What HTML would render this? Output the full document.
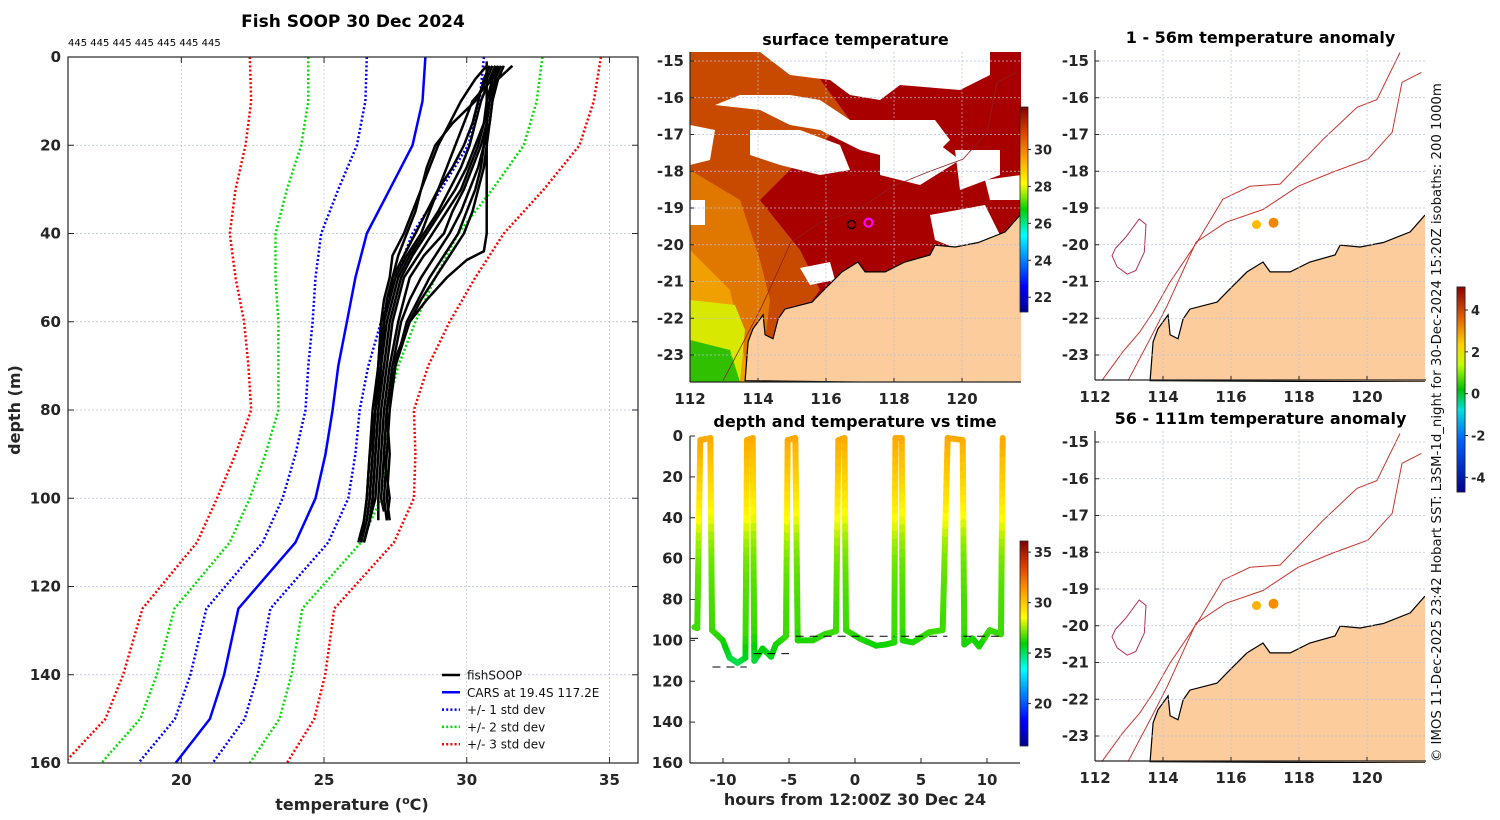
<!DOCTYPE html>
<html><head><meta charset="utf-8"><style>
html,body{margin:0;padding:0;background:#fff;}
svg{display:block;font-family:"DejaVu Sans","Liberation Sans",sans-serif;}
.tk{font-size:15px;font-weight:bold;fill:#262626;}
.ttl{font-size:16px;font-weight:bold;fill:#000;}
.grid{stroke:#b8c0dc;stroke-width:0.7;stroke-dasharray:2,2;}
</style></head><body>
<svg id="fig" width="1500" height="820" viewBox="0 0 1500 820">
<defs>
<linearGradient id="jet" x1="0" y1="1" x2="0" y2="0">
<stop offset="0" stop-color="#00008f"/><stop offset="0.125" stop-color="#0000ff"/><stop offset="0.375" stop-color="#00ffff"/><stop offset="0.5" stop-color="#00d000"/><stop offset="0.625" stop-color="#ffff00"/><stop offset="0.75" stop-color="#ffa000"/><stop offset="0.875" stop-color="#e04000"/><stop offset="1" stop-color="#800000"/>
</linearGradient>
<linearGradient id="anom" x1="0" y1="1" x2="0" y2="0">
<stop offset="0" stop-color="#00008f"/><stop offset="0.25" stop-color="#0060ff"/><stop offset="0.4" stop-color="#00e0e0"/><stop offset="0.5" stop-color="#00c000"/><stop offset="0.62" stop-color="#c0ff00"/><stop offset="0.72" stop-color="#ffd000"/><stop offset="0.85" stop-color="#e06000"/><stop offset="1" stop-color="#900000"/>
</linearGradient>
<clipPath id="clipL"><rect x="68" y="57" width="570" height="706"/></clipPath>
<clipPath id="clipM"><rect x="690" y="52" width="331" height="330"/></clipPath>
<clipPath id="clipT"><rect x="690" y="430" width="330" height="333"/></clipPath>
<clipPath id="clipR1"><rect x="1095" y="50" width="330" height="332"/></clipPath>
<clipPath id="clipR2"><rect x="1095" y="431" width="330" height="332"/></clipPath>
</defs>
<g id="left"></g>
<g id="mapT"></g>
<g id="ts"></g>
<g id="mapR1"></g>
<g id="mapR2"></g>
<text x="1441" y="762" transform="rotate(-90 1441 762)" style="font-size:13.3px;fill:#111">© IMOS 11-Dec-2025 23:42 Hobart SST: L3SM-1d_night for 30-Dec-2024 15:20Z isobaths: 200  1000m</text>
</svg>
<script>
// ---------- Profile panel data ----------
const depthLevels = [0,10,20,30,40,50,60,70,80,90,100,110,125,140,150,160];
const carsMean =    [28.55,28.45,28.1,27.3,26.5,26.1,25.8,25.5,25.3,25.05,24.7,24.0,22.0,21.5,21.0,19.8];
const carsStd =     [2.05,2.0,1.95,1.8,1.6,1.4,1.2,1.05,0.95,1.05,1.15,1.15,1.12,1.18,1.22,1.3];
const fishDepths = [2,5,10,15,20,25,30,35,40,45,50,55,60,70,80,90,100,105,110];
const fishProfiles = [
 [31.0,30.9,30.7,30.6,30.3,30.0,29.6,29.1,28.6,28.1,27.7,27.5,27.3,27.1,26.9,26.8,26.7,26.6,26.4],
 [31.1,30.9,30.2,29.9,29.6,29.3,29.0,28.7,28.4,27.9,27.5,27.3,27.0,26.9,26.8,26.6,26.5,26.4,26.3],
 [31.2,31.0,30.8,30.7,30.5,30.2,29.9,29.5,29.2,28.5,28.0,27.8,27.6,27.3,27.1,27.0,26.9,26.9],
 [30.9,30.7,30.3,29.5,28.9,28.6,28.4,28.1,27.8,27.4,27.3,27.1,27.0,26.9,26.7,26.6,26.5,26.4,26.2],
 [31.3,31.1,30.9,30.8,30.6,30.4,30.1,29.8,29.4,28.9,28.4,28.0,27.7,27.4,27.2,27.3,27.2,27.3],
 [30.7,30.3,29.8,29.4,29.0,28.7,28.4,28.2,27.9,27.6,27.4,27.2,27.1,26.9,26.8,26.7,26.6,26.5],
 [31.0,30.9,30.8,30.7,30.6,30.5,30.3,30.0,29.7,29.2,28.7,28.3,27.9,27.5,27.3,27.2,27.1,27.2],
 [31.6,31.1,30.8,30.6,30.4,30.1,29.8,29.3,28.8,28.3,27.8,27.6,27.4,27.2,27.0,26.9,26.8,26.6,26.4],
 [31.1,31.0,30.9,30.8,30.7,30.6,30.4,30.2,29.9,29.4,28.9,28.4,28.0,27.4,27.2,27.1,27.3,27.2],
 [31.0,30.8,30.5,30.3,30.1,29.8,29.4,29.0,28.5,28.0,27.6,27.4,27.2,27.0,26.9,26.8,26.7,26.6],
 [30.8,30.6,30.4,30.2,29.9,29.5,29.0,28.6,28.2,27.8,27.4,27.3,27.1,27.0,26.8,26.7,26.6,26.5,26.3]
];
const oddDepths = [1,10,20,30,40,44,46,50,55,60,70,80,90,100,103];
const oddTemps = [30.7,30.7,30.7,30.7,30.7,30.6,30.0,29.3,28.6,28.0,27.5,27.2,27.1,27.0,27.1];
const profXTicks = [20,25,30,35];
const profYTicks = [0,20,40,60,80,100,120,140,160];

// ---------- Time series data ----------
const tsHours = [-12.17,-11.95,-11.72,-10.96,-10.83,-10.02,-9.5,-8.9,-8.3,-8.18,-7.75,-7.63,-7.0,-6.36,-6.0,-5.23,-5.1,-4.52,-4.34,-3.2,-2.3,-1.44,-1.26,-0.8,-0.68,0.33,1.6,2.35,2.98,3.06,3.54,3.61,4.37,5.63,6.64,7.02,8.16,8.28,8.9,9.4,10.2,11.06,11.19];
const tsDepths = [93.5,94,2,1,95,100,108.5,111,108.5,2,1,110,104,108,102,98,2,1,100,100,97,95.5,2,1,95,99,102.6,102,101,1,1,100,101,96,95,1,2,102,99,103,95,97,1];
const tsDashH0 = [-12.5,-10.8,-7.7,-4.5,3.5,8.2];
const tsDashH1 = [-11.8,-8.2,-5.0,3.0,7.0,11.2];
const tsDashD = [99,113,106.5,98,98,98];
const tsXTicks = [-10,-5,0,5,10];
const tsYTicks = [0,20,40,60,80,100,120,140,160];
const tsCbTicks = [20,25,30,35];

// ---------- Map data ----------
const coastLon = [121.7,121.27,120.48,119.8,119.21,119.06,118.32,117.74,117.15,116.94,116.47,115.97,115.59,114.79,114.59,114.44,114.21,114.15,113.85,113.71,113.62];
const coastLat = [-19.2,-19.65,-19.94,-20.06,-20.01,-20.28,-20.47,-20.74,-20.74,-20.47,-20.74,-21.2,-21.56,-21.75,-22.02,-22.56,-22.45,-21.91,-22.29,-22.64,-23.7];
const iso1000Lon = [112.2,112.82,113.32,113.71,114.21,115.0,115.76,116.56,117.44,118.71,119.71,120.29,120.97];
const iso1000Lat = [-23.7,-22.91,-22.37,-21.83,-21.01,-19.93,-18.76,-18.41,-18.35,-17.13,-16.26,-16.05,-14.77];
const iso200Lon = [112.97,113.62,114.12,114.97,115.85,116.94,117.97,118.97,120.03,120.74,121.03,121.6];
const iso200Lat = [-23.7,-22.56,-21.66,-19.93,-19.39,-19.04,-18.41,-18.03,-17.67,-16.94,-15.58,-15.31];
const islandLon = [112.6,112.9,113.3,113.5,113.45,113.2,112.95,112.65,112.5];
const islandLat = [-20.1,-19.8,-19.3,-19.45,-20.2,-20.7,-20.8,-20.6,-20.3];
const fishLon = [116.75,117.25];
const fishLat = [-19.45,-19.4];
const fishAnom1 = [2.3,3.0];
const fishAnom2 = [2.4,2.9];
const lonTicks = [112,114,116,118,120];
const latTicks = [-15,-16,-17,-18,-19,-20,-21,-22,-23];
const sstCbTicks = [22,24,26,28,30];
const anomCbTicks = [-4,-2,0,2,4];

const NS="http://www.w3.org/2000/svg";
function mk(parent,tag,attrs,text){const e=document.createElementNS(NS,tag);for(const k in attrs)e.setAttribute(k,attrs[k]);if(text!==undefined)e.textContent=text;parent.appendChild(e);return e;}
function jet(t,lo,hi){let v=(t-lo)/(hi-lo);v=Math.max(0,Math.min(1,v));
 const st=[[0,0,0,143],[0.125,0,0,255],[0.375,0,255,255],[0.5,0,208,0],[0.625,255,255,0],[0.75,255,160,0],[0.875,224,64,0],[1,128,0,0]];
 for(let i=1;i<st.length;i++){if(v<=st[i][0]){const a=st[i-1],b=st[i],f=(v-a[0])/(b[0]-a[0]);return `rgb(${Math.round(a[1]+f*(b[1]-a[1]))},${Math.round(a[2]+f*(b[2]-a[2]))},${Math.round(a[3]+f*(b[3]-a[3]))})`;}}return "rgb(128,0,0)";}
function interp(xs,ys,x){if(x<=xs[0])return ys[0];for(let i=1;i<xs.length;i++){if(x<=xs[i]){const f=(x-xs[i-1])/(xs[i]-xs[i-1]);return ys[i-1]+f*(ys[i]-ys[i-1]);}}return ys[ys.length-1];}

// ================= LEFT PANEL =================
(function(){
 const g=document.getElementById('left');
 const X0=68,X1=638,Y0=57,Y1=763,T0=16.03,T1=36.0;
 const xT=t=>X0+(t-T0)/(T1-T0)*(X1-X0);
 const yD=d=>Y0+d/160*(Y1-Y0);
 let e;
 profXTicks.forEach(t=>{e=mk(g,'line',{x1:xT(t),x2:xT(t),y1:Y0,y2:Y1,class:'grid'});});
 profYTicks.forEach(d=>{e=mk(g,'line',{x1:X0,x2:X1,y1:yD(d),y2:yD(d),class:'grid',stroke:'#d8b8b8'});});
 const cl=mk(g,'g',{'clip-path':'url(#clipL)'});
 function line(ds,ts,col,w,dash,name){const pts=ds.map((d,i)=>xT(ts[i]).toFixed(1)+','+yD(d).toFixed(1)).join(' ');
  const a={points:pts,fill:'none',stroke:col,'stroke-width':w,'stroke-linejoin':'round'};if(dash)a['stroke-dasharray']=dash;
  const p=mk(cl,'polyline',a);}
 const dsh='2,2.2';
 line(depthLevels,carsMean.map((m,i)=>m-3*carsStd[i]),'#ff0000',2.5,dsh,'cars-minus-3std');
 line(depthLevels,carsMean.map((m,i)=>m+3*carsStd[i]),'#ff0000',2.5,dsh,'cars-plus-3std');
 line(depthLevels,carsMean.map((m,i)=>m-2*carsStd[i]),'#00dd00',2.5,dsh,'cars-minus-2std');
 line(depthLevels,carsMean.map((m,i)=>m+2*carsStd[i]),'#00dd00',2.5,dsh,'cars-plus-2std');
 line(depthLevels,carsMean.map((m,i)=>m-carsStd[i]),'#0000ff',2.5,dsh,'cars-minus-1std');
 line(depthLevels,carsMean.map((m,i)=>m+carsStd[i]),'#0000ff',2.5,dsh,'cars-plus-1std');
 line(depthLevels,carsMean,'#0000ff',2.5,null,'cars-mean');
 fishProfiles.forEach(p=>line(fishDepths.slice(0,p.length),p,'#000',2.5,null,'fishsoop-profile'));
 line(oddDepths,oddTemps,'#000',2.5,null,'fishsoop-profile');
 e=mk(g,'rect',{x:X0,y:Y0,width:X1-X0,height:Y1-Y0,fill:'none',stroke:'#262626','stroke-width':1.2});
 profXTicks.forEach(t=>{mk(g,'line',{x1:xT(t),x2:xT(t),y1:Y1,y2:Y1-6,stroke:'#262626'});mk(g,'line',{x1:xT(t),x2:xT(t),y1:Y0,y2:Y0+6,stroke:'#262626'});
  e=mk(g,'text',{x:xT(t),y:Y1+22,'text-anchor':'middle',class:'tk'},String(t));});
 profYTicks.forEach(d=>{mk(g,'line',{x1:X0,x2:X0+6,y1:yD(d),y2:yD(d),stroke:'#262626'});mk(g,'line',{x1:X1,x2:X1-6,y1:yD(d),y2:yD(d),stroke:'#262626'});
  e=mk(g,'text',{x:X0-7,y:yD(d)+5,'text-anchor':'end',class:'tk'},String(d));});
 e=mk(g,'text',{x:353,y:27,'text-anchor':'middle',style:'font-size:17px;font-weight:bold'},'Fish SOOP 30 Dec 2024');
 e=mk(g,'text',{x:68,y:46,style:'font-size:10px'},'445 445 445 445 445 445 445');
 e=mk(g,'text',{x:20,y:410,transform:'rotate(-90 20 410)','text-anchor':'middle',style:'font-size:16px;font-weight:bold;fill:#262626'},'depth (m)');
 e=mk(g,'text',{x:352,y:810,'text-anchor':'middle',style:'font-size:16px;font-weight:bold;fill:#262626'});e.innerHTML='temperature (<tspan dy="-6" font-size="11">o</tspan><tspan dy="6">C)</tspan>';
 const leg=[['fishSOOP','#000',null],['CARS at 19.4S 117.2E','#0000ff',null],['+/- 1 std dev','#0000ff',dsh],['+/- 2 std dev','#00dd00',dsh],['+/- 3 std dev','#ff0000',dsh]];
 leg.forEach((l,i)=>{const y=675+i*17.3;const a={x1:442,x2:460,y1:y,y2:y,stroke:l[1],'stroke-width':2.5};if(l[2])a['stroke-dasharray']=l[2];
  e=mk(g,'line',a);
  e=mk(g,'text',{x:467,y:y+4.5,style:'font-size:12px;fill:#111'},l[0]);});
})();

// ================= MAP HELPERS =================
function mapAxes(g,X0,Y0,ylat15,clip,title,cbY0,cbY1,cbFill,cbTicks,cbLo,cbHi,showLon){
 const Y1=Y0+330,X1=X0+331;
 const xL=lon=>X0+(lon-112)*34;
 const yL=lat=>ylat15+(-15-lat)*36.75;
 return {xL,yL,X1,Y1,finish:function(){
  let e;
  lonTicks.forEach(l=>{e=mk(g,'line',{x1:xL(l),x2:xL(l),y1:Y0,y2:Y1,class:'grid'});
   mk(g,'line',{x1:xL(l),x2:xL(l),y1:Y1,y2:Y1-4,stroke:'#262626'});
   if(showLon){e=mk(g,'text',{x:xL(l),y:Y1+22,'text-anchor':'middle',class:'tk'},String(l));}});
  latTicks.forEach(l=>{e=mk(g,'line',{x1:X0,x2:X1,y1:yL(l),y2:yL(l),class:'grid'});
   mk(g,'line',{x1:X0,x2:X0+4,y1:yL(l),y2:yL(l),stroke:'#262626'});
   e=mk(g,'text',{x:X0-6,y:yL(l)+5,'text-anchor':'end',class:'tk'},String(l));});
  mk(g,'line',{x1:X0,x2:X0,y1:Y0,y2:Y1,stroke:'#262626','stroke-width':1.2});
  mk(g,'line',{x1:X0,x2:X1,y1:Y1,y2:Y1,stroke:'#262626','stroke-width':1.2});
  e=mk(g,'text',{x:(X0+X1)/2,y:Y0-7,'text-anchor':'middle',class:'ttl'},title);
  const cx=X1+(X0>1000?31:-1);
  e=mk(g,'rect',{x:cx,y:cbY0,width:8,height:cbY1-cbY0,fill:cbFill,stroke:'#262626','stroke-width':0.8});
  cbTicks.forEach(t=>{const y=cbY1-(t-cbLo)/(cbHi-cbLo)*(cbY1-cbY0);mk(g,'line',{x1:cx+8,x2:cx+11,y1:y,y2:y,stroke:'#262626'});
   e=mk(g,'text',{x:cx+14,y:y+5,style:'font-size:13px;font-weight:bold;fill:#262626'},String(t));});
 }};
}
function pathOf(lons,lats,xL,yL){return lons.map((l,i)=>(i?'L':'M')+xL(l).toFixed(1)+','+yL(lats[i]).toFixed(1)).join(' ');}
function drawLand(cl,xL,yL,X1,Y1){
 const d=pathOf(coastLon,coastLat,xL,yL)+` L${X1+2},${Y1+2} L${X1+2},${yL(coastLat[0])} Z`;
 const e=mk(cl,'path',{d:d,fill:'#fccc9c',stroke:'#000','stroke-width':1.2});
}
function drawIsobaths(cl,xL,yL){
 let e=mk(cl,'path',{d:pathOf(iso1000Lon,iso1000Lat,xL,yL),fill:'none',stroke:'#c8342c','stroke-width':1});
 e=mk(cl,'path',{d:pathOf(iso200Lon,iso200Lat,xL,yL),fill:'none',stroke:'#c8342c','stroke-width':1});
 e=mk(cl,'path',{d:pathOf(islandLon,islandLat,xL,yL)+'Z',fill:'none',stroke:'#b03060','stroke-width':1});
}

// ================= SURFACE TEMP MAP =================
(function(){
 const g=document.getElementById('mapT');
 const m=mapAxes(g,690,52,61,'clipM','surface temperature',107,312,'url(#jet)',sstCbTicks,21.2,32.3,true);
 const cl=mk(g,'g',{'clip-path':'url(#clipM)'});
 let e=mk(cl,'rect',{x:690,y:52,width:331,height:330,fill:'#a80000'});
 e=mk(cl,'path',{d:'M690,52 L800,52 L850,120 L800,160 L760,200 L800,250 L820,290 L790,330 L760,382 L690,382 Z',fill:'#c84a00'});
 e=mk(cl,'path',{d:'M690,170 L740,200 L760,260 L770,300 L760,382 L690,382 Z',fill:'#e07800'});
 e=mk(cl,'path',{d:'M690,250 L730,290 L750,382 L690,382 Z',fill:'#f0a000'});
 e=mk(cl,'path',{d:'M690,300 L735,305 L745,330 L740,382 L690,382 Z',fill:'#d8e800'});
 e=mk(cl,'path',{d:'M690,340 L730,350 L740,382 L690,382 Z',fill:'#30c000'});
 const clouds=['M760,52 L990,52 L990,75 L960,90 L900,85 L880,100 L850,95 L830,80 L790,75 Z','M715,105 L760,110 L790,125 L820,130 L860,150 L900,160 L930,160 L950,140 L935,120 L900,120 L850,120 L820,100 L790,95 L740,95 Z','M750,130 L800,130 L840,145 L850,170 L820,175 L780,165 L750,155 Z','M880,140 L940,145 L960,160 L920,185 L880,175 Z','M955,150 L1000,150 L1000,175 L960,190 Z','M690,125 L715,130 L710,160 L690,165 Z','M930,215 L985,205 L1000,235 L960,250 L935,240 Z','M690,200 L705,200 L705,225 L690,225 Z','M800,268 L830,262 L835,280 L810,285 Z','M985,180 L1021,175 L1021,200 L990,200 Z'];
 clouds.forEach(c=>{e=mk(cl,'path',{d:c,fill:'#fff'});});
 drawLand(cl,m.xL,m.yL,m.X1,m.Y1);
 e=mk(cl,'path',{d:pathOf(iso200Lon,iso200Lat,m.xL,m.yL),fill:'none',stroke:'#902020','stroke-width':0.8});
 e=mk(cl,'circle',{cx:m.xL(fishLon[0]),cy:m.yL(fishLat[0]),r:4,fill:'none',stroke:'#000','stroke-width':1.3});
 e=mk(cl,'circle',{cx:m.xL(fishLon[1]),cy:m.yL(fishLat[1]),r:4,fill:'none',stroke:'#ff00ff','stroke-width':2.2});
 m.finish();
})();

// ================= ANOMALY MAPS =================
function anomMap(id,Y0,ylat15,clip,title,anoms,cb){
 const g=document.getElementById(id);
 const m=mapAxes(g,1095,Y0,ylat15,clip,title,287,492,'url(#anom)',cb?anomCbTicks:[],-4.7,5.1,true);
 const cl=mk(g,'g',{'clip-path':'url(#'+clip+')'});
 drawLand(cl,m.xL,m.yL,m.X1,m.Y1);
 drawIsobaths(cl,m.xL,m.yL);
 anoms.forEach((a,i)=>{const e=mk(cl,'circle',{cx:m.xL(fishLon[i]),cy:m.yL(fishLat[i]),r:i?5:4.5,fill:jet(a,-4.7,5.1)});});
 m.finish();
}
anomMap('mapR1',50,61,'clipR1','1 - 56m temperature anomaly',fishAnom1,true);
anomMap('mapR2',431,442,'clipR2','56 - 111m temperature anomaly',fishAnom2,false);

// ================= TIME SERIES =================
(function(){
 const g=document.getElementById('ts');
 const X0=690,X1=1020,Y0=436,Y1=763,H0=-12.5,H1=12.5;
 const xH=h=>X0+(h-H0)/(H1-H0)*(X1-X0);
 const yD=d=>Y0+d/160*(Y1-Y0);
 const cl=mk(g,'g',{'clip-path':'url(#clipT)'});
 let e;
 const meanFish=fishDepths.map((d,j)=>{let s=0,n=0;fishProfiles.forEach(p=>{if(p[j]!==undefined){s+=p[j];n++;}});return s/n;});
 for(let i=1;i<tsHours.length;i++){
  const n=Math.max(2,Math.ceil(Math.abs(tsDepths[i]-tsDepths[i-1])/4));
  for(let k=0;k<n;k++){const f0=k/n,f1=(k+1)/n;
   const h0=tsHours[i-1]+f0*(tsHours[i]-tsHours[i-1]),h1=tsHours[i-1]+f1*(tsHours[i]-tsHours[i-1]);
   const d0=tsDepths[i-1]+f0*(tsDepths[i]-tsDepths[i-1]),d1=tsDepths[i-1]+f1*(tsDepths[i]-tsDepths[i-1]);
   let t=interp(fishDepths,meanFish,(d0+d1)/2); if((d0+d1)/2>95)t-=0.8*((d0+d1)/2-95)/15;
   e=mk(cl,'line',{x1:xH(h0),y1:yD(d0),x2:xH(h1),y2:yD(d1),stroke:jet(t-0.3,15.8,36.1),'stroke-width':6,'stroke-linecap':'round'});
   
   
  }
 }
 tsDashD.forEach((d,i)=>{e=mk(cl,'line',{x1:xH(tsDashH0[i]),x2:xH(tsDashH1[i]),y1:yD(d),y2:yD(d),stroke:'#000','stroke-width':1,'stroke-dasharray':'8,6'});});
 mk(g,'line',{x1:X0,x2:X0,y1:Y0,y2:Y1,stroke:'#262626','stroke-width':1.2});
 mk(g,'line',{x1:X0,x2:X1,y1:Y1,y2:Y1,stroke:'#262626','stroke-width':1.2});
 tsXTicks.forEach(h=>{mk(g,'line',{x1:xH(h),x2:xH(h),y1:Y1,y2:Y1-5,stroke:'#262626'});
  e=mk(g,'text',{x:xH(h),y:Y1+22,'text-anchor':'middle',class:'tk'},String(h));});
 tsYTicks.forEach(d=>{mk(g,'line',{x1:X0,x2:X0+5,y1:yD(d),y2:yD(d),stroke:'#262626'});
  e=mk(g,'text',{x:X0-7,y:yD(d)+5,'text-anchor':'end',class:'tk'},String(d));});
 e=mk(g,'text',{x:855,y:427,'text-anchor':'middle',class:'ttl'},'depth and temperature vs time');
 e=mk(g,'text',{x:855,y:805,'text-anchor':'middle',style:'font-size:16px;font-weight:bold;fill:#262626'},'hours from 12:00Z 30 Dec 24');
 const cy0=541,cy1=746,lo=15.8,hi=36.1;
 e=mk(g,'rect',{x:1020,y:cy0,width:8,height:cy1-cy0,fill:'url(#jet)',stroke:'#262626','stroke-width':0.8});
 tsCbTicks.forEach(t=>{const y=cy1-(t-lo)/(hi-lo)*(cy1-cy0);mk(g,'line',{x1:1028,x2:1031,y1:y,y2:y,stroke:'#262626'});
  e=mk(g,'text',{x:1034,y:y+5,style:'font-size:13px;font-weight:bold;fill:#262626'},String(t));});
})();
</script>
</body></html>
